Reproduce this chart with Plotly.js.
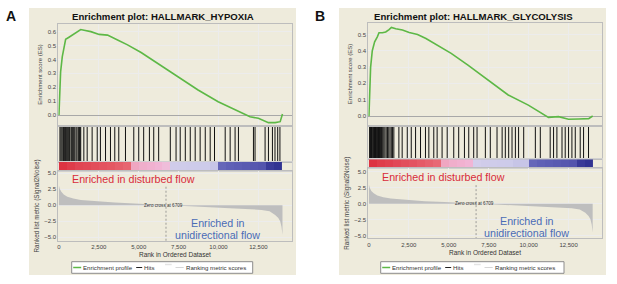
<!DOCTYPE html>
<html>
<head>
<meta charset="utf-8">
<script src="https://cdn.plot.ly/plotly-3.0.1.min.js"></script>
<style>
html,body{margin:0;padding:0;background:#fff;}
#chart{width:617px;height:284px;}
</style>
</head>
<body>
<div id="chart"></div>
<script>
// ---------- DATA ----------
const panelLabels = ["A", "B"];
const panelTitles = ["Enrichment plot: HALLMARK_HYPOXIA", "Enrichment plot: HALLMARK_GLYCOLYSIS"];
const rankTicks = [0, 2500, 5000, 7500, 10000, 12500];
const zeroCross = 6709;

// Running enrichment score, panel A (HYPOXIA)
const esRankA  = [0, 40, 105, 210, 315, 420, 630, 840, 1155, 1365, 1575, 2000, 2520, 3045, 3675, 4300, 5150, 6200, 7460, 8720, 9980, 11240, 11975, 12500, 13130, 13550, 13865, 14010];
const esScoreA = [0, 0.13, 0.31, 0.42, 0.49, 0.545, 0.56, 0.575, 0.595, 0.615, 0.61, 0.60, 0.58, 0.575, 0.54, 0.505, 0.45, 0.37, 0.275, 0.18, 0.095, 0.025, -0.012, -0.024, -0.055, -0.055, -0.048, 0.007];

// Running enrichment score, panel B (GLYCOLYSIS)
const esRankB  = [0, 40, 105, 210, 357, 525, 630, 840, 1050, 1260, 1407, 1680, 2100, 2520, 3045, 3570, 4300, 5150, 6200, 7460, 8720, 9980, 10820, 11240, 11870, 12500, 13130, 13760, 14010];
const esScoreB = [0, 0.16, 0.30, 0.40, 0.455, 0.485, 0.51, 0.51, 0.515, 0.53, 0.543, 0.535, 0.527, 0.512, 0.50, 0.475, 0.435, 0.384, 0.312, 0.22, 0.129, 0.067, 0.016, -0.008, -0.004, -0.02, -0.018, -0.016, 0.0];

// Gene-set hit positions (rank)
const hitsA = [63, 126, 189, 252, 294, 357, 420, 462, 525, 588, 651, 693, 777, 840, 903, 987, 1071, 1134, 1218, 1281, 1323, 1365,
  1560, 1770, 2080, 2400, 2600, 2920, 3230, 3500, 3750, 4170, 4690, 5000, 5310, 5670, 5940, 6250,
  6980, 7340, 7600, 7920, 8230, 8540, 8850, 9170, 9480, 9750, 10420, 10730, 11040, 11250,
  12190, 12290, 12920, 13130, 13380, 13540, 13710, 13850];
const hitsB = [40, 100, 160, 230, 290, 350, 410, 470, 540, 600, 660, 720, 790, 860, 930, 1000, 1080, 1160, 1240, 1320, 1400, 1480, 1560,
  1875, 2080, 2400, 2650, 2920, 3230, 3540, 3750, 4060, 4270, 4580, 4900, 5310, 5620, 5980, 6250, 6560, 6770,
  7290, 7600, 8020, 8340, 8540, 8750, 8960, 9170, 9370, 9690, 10420, 10730,
  11350, 11560, 11770, 12090, 12290, 12500, 12710, 12920, 13230, 13440, 13750];

// Ranked-list metric (Signal2Noise) profile
const metricRankA = [0, 50, 150, 300, 525, 900, 1365, 2000, 2520, 3500, 4730, 5800, 6709, 7800, 8930, 10000, 11030, 12000, 12700, 13200, 13550, 13750, 13865, 13950, 14010];
const metricValA  = [3.1, 2.6, 2.1, 1.7, 1.35, 1.05, 0.83, 0.68, 0.57, 0.42, 0.3, 0.15, 0, -0.15, -0.3, -0.4, -0.5, -0.6, -0.73, -0.95, -1.5, -2.0, -2.5, -3.4, -4.6];
const metricRankB = [0, 50, 150, 300, 525, 900, 1365, 2000, 2520, 3500, 4730, 5800, 6709, 7800, 8930, 10000, 11030, 12000, 12700, 13200, 13550, 13750, 13865, 13950, 14010];
const metricValB  = [3.0, 2.5, 2.0, 1.65, 1.3, 1.0, 0.8, 0.66, 0.55, 0.4, 0.28, 0.14, 0, -0.14, -0.28, -0.38, -0.48, -0.58, -0.7, -0.92, -1.4, -1.9, -2.4, -3.3, -4.5];

// Colour-bar bins (500 ranks each), signed intensity of the ranked metric
const binSize = 500;
const colorBinsA = [1.0, 0.95, 0.9, 0.88, 0.85, 0.82, 0.8, 0.76, 0.72, 0.36, 0.32, 0.3, 0.28, 0.22, -0.25, -0.26, -0.27, -0.28, -0.28, -0.3, -0.62, -0.64, -0.66, -0.68, -0.7, -0.72, -0.9, -0.95];
const colorBinsB = [1.0, 0.95, 0.92, 0.88, 0.85, 0.82, 0.78, 0.74, 0.7, 0.36, 0.32, 0.3, 0.28, -0.22, -0.25, -0.26, -0.27, -0.28, -0.3, -0.3, -0.62, -0.64, -0.66, -0.68, -0.7, -0.72, -0.9, -0.95];

const legendItems = ["Enrichment profile", "Hits", "Ranking metric scores"];

// ---------- STYLE / LAYOUT ----------
const W = 617, H = 284;
const green = "#5DB846";
const font = "Liberation Sans, Arial, sans-serif";
const colorscale = [[0, "#2A2C8C"], [0.18, "#5F60B6"], [0.36, "#CDCBEA"], [0.5, "#E8D8EE"], [0.64, "#F1B5D5"], [0.8, "#EB7A84"], [1, "#DD3342"]];

const panels = [
  {x0: 58.3, x1: 291.5, esTop: 24, esBot: 125, esRange: [-0.072, 0.655], esTicks: [0,0.1,0.2,0.3,0.4,0.5,0.6],
   hitTop: 127, hitBot: 162, cbBot: 171, mBot: 241, mRange: [-5.58, 5.36],
   es: [esRankA, esScoreA], hits: hitsA, metric: [metricRankA, metricValA], bins: colorBinsA,
   bg: [29, 296, 8, 275], legend: [71.7, 252.7, 261.7, 273.3]},
  {x0: 368.3, x1: 601.7, esTop: 23, esBot: 125, esRange: [-0.055, 0.57], esTicks: [0,0.1,0.2,0.3,0.4,0.5],
   hitTop: 126.7, hitBot: 159.3, cbBot: 168.3, mBot: 238.3, mRange: [-5.4, 5.53],
   es: [esRankB, esScoreB], hits: hitsB, metric: [metricRankB, metricValB], bins: colorBinsB,
   bg: [339, 606, 8, 275], legend: [380.7, 564, 261.7, 273.3]}
];

const px = v => v / W;
const py = v => 1 - v / H;
const xRange = [-40, 14575];

const traces = [];
const layout = {
  width: W, height: H,
  margin: {l: 0, r: 0, t: 0, b: 0},
  paper_bgcolor: "#ffffff", plot_bgcolor: "#ffffff",
  showlegend: false,
  font: {family: font, color: "#333"},
  shapes: [], annotations: []
};

panels.forEach((p, i) => {
  const k = i * 4;
  const ax = n => (k + n === 1 ? "" : String(k + n));
  const dom = [px(p.x0), px(p.x1)];
  const gridC = "#ECECEC", lineC = "#BDBDBD";
  const baseX = {domain: dom, range: xRange, showline: true, mirror: true, linecolor: lineC, linewidth: 1,
    showgrid: true, gridcolor: gridC, gridwidth: 1, zeroline: false, tickvals: rankTicks, showticklabels: false, ticks: ""};

  // ES subplot
  layout["xaxis" + ax(1)] = Object.assign({}, baseX, {anchor: "y" + ax(1)});
  layout["yaxis" + ax(1)] = {domain: [py(p.esBot), py(p.esTop)], range: p.esRange, anchor: "x" + ax(1),
    showline: true, mirror: true, linecolor: lineC, showgrid: true, gridcolor: gridC,
    zeroline: true, zerolinecolor: "#A8A8A8", zerolinewidth: 1,
    tickvals: p.esTicks, tickformat: ".1f", tickfont: {size: 6, color: "#444"}, ticks: "", ticklen: 0,
    title: {text: "Enrichment score (ES)", font: {size: 6, color: "#444"}, standoff: 4}};
  // Hits subplot
  layout["xaxis" + ax(2)] = Object.assign({}, baseX, {anchor: "y" + ax(2)});
  layout["yaxis" + ax(2)] = {domain: [py(p.hitBot), py(p.hitTop)], range: [0, 1], anchor: "x" + ax(2),
    showline: true, mirror: true, linecolor: lineC, showgrid: false, zeroline: false, showticklabels: false, ticks: ""};
  // Colour bar subplot
  layout["xaxis" + ax(3)] = Object.assign({}, baseX, {anchor: "y" + ax(3), showgrid: false, linecolor: "#D0D0D0"});
  layout["yaxis" + ax(3)] = {domain: [py(p.cbBot), py(p.hitBot)], range: [0, 1], anchor: "x" + ax(3),
    showline: true, mirror: true, linecolor: "#D0D0D0", showgrid: false, zeroline: false, showticklabels: false, ticks: ""};
  // Metric subplot
  layout["xaxis" + ax(4)] = Object.assign({}, baseX, {anchor: "y" + ax(4), showticklabels: true,
    tickformat: ",d", tickfont: {size: 6, color: "#444"},
    title: {text: "Rank in Ordered Dataset", font: {size: 6.5, color: "#333"}, standoff: 3}});
  layout["yaxis" + ax(4)] = {domain: [py(p.mBot), py(p.cbBot)], range: p.mRange, anchor: "x" + ax(4),
    showline: true, mirror: true, linecolor: lineC, showgrid: true, gridcolor: gridC,
    zeroline: false, tickvals: [-5, -2.5, 0, 2.5, 5], tickformat: ".1f", tickfont: {size: 6, color: "#444"}, ticks: "",
    title: {text: "Ranked list metric (Signal2Noise)", font: {size: 6.3, color: "#444"}, standoff: 4}};

  const xa = n => "x" + ax(n), ya = n => "y" + ax(n);

  // metric fill
  traces.push({type: "scatter", mode: "lines", x: p.metric[0], y: p.metric[1], xaxis: xa(4), yaxis: ya(4),
    fill: "tozeroy", fillcolor: "#BEBEBE", line: {width: 0, color: "#BEBEBE"}, hoverinfo: "skip"});
  // zero-cross dashed line
  traces.push({type: "scatter", mode: "lines", x: [zeroCross, zeroCross], y: [2.9, p.mRange[0]], xaxis: xa(4), yaxis: ya(4),
    line: {width: 0.8, color: "#888", dash: "2px,2px"}, hoverinfo: "skip"});
  // colour bar heatmap
  const edges = [];
  for (let b = 0; b <= p.bins.length; b++) edges.push(b * binSize);
  traces.push({type: "heatmap", x: edges, y: [0, 1], z: [p.bins], xaxis: xa(3), yaxis: ya(3),
    zmin: -1, zmax: 1, colorscale: colorscale, showscale: false, zsmooth: false, hoverinfo: "skip"});
  // hits
  const hx = [], hy = [];
  p.hits.forEach(h => { hx.push(h, h, null); hy.push(0, 1, null); });
  traces.push({type: "scatter", mode: "lines", x: hx, y: hy, xaxis: xa(2), yaxis: ya(2),
    line: {width: 1, color: "#111"}, hoverinfo: "skip", connectgaps: false});
  // ES curve
  traces.push({type: "scatter", mode: "lines", x: p.es[0], y: p.es[1], xaxis: xa(1), yaxis: ya(1),
    line: {width: 1.6, color: green}, hoverinfo: "skip"});

  // background panel
  layout.shapes.push({type: "rect", xref: "paper", yref: "paper", layer: "below",
    x0: px(p.bg[0]), x1: px(p.bg[1]), y0: py(p.bg[3]), y1: py(p.bg[2]), fillcolor: "#EEEBDC", line: {width: 0}});

  // titles
  layout.annotations.push({xref: "paper", yref: "paper", x: px((p.x0 + p.x1) / 2 - 12), y: py(16), text: "<b>" + panelTitles[i] + "</b>",
    showarrow: false, font: {size: 9.6, color: "#111", family: font}, xanchor: "center", yanchor: "middle"});
  layout.annotations.push({xref: "paper", yref: "paper", x: px(i === 0 ? 11 : 320), y: py(16), text: "<b>" + panelLabels[i] + "</b>",
    showarrow: false, font: {size: 14, color: "#111", family: font}, xanchor: "center", yanchor: "middle"});
  // region labels
  layout.annotations.push({xref: xa(4), yref: ya(4), x: i === 0 ? 4700 : 4640, y: i === 0 ? 4.06 : 4.12,
    text: "Enriched in disturbed flow", showarrow: false, font: {size: 10.7, color: "#D92B3A", family: font}});
  layout.annotations.push({xref: xa(4), yref: ya(4), x: i === 0 ? 9944 : 9875, y: i === 0 ? -2.72 : -2.66,
    text: "Enriched in", showarrow: false, font: {size: 10.7, color: "#4A6CB6", family: font}});
  layout.annotations.push({xref: xa(4), yref: ya(4), x: i === 0 ? 9944 : 9875, y: i === 0 ? -4.64 : -4.63,
    text: "unidirectional flow", showarrow: false, font: {size: 10.7, color: "#4A6CB6", family: font}});
  layout.annotations.push({xref: xa(4), yref: ya(4), x: i === 0 ? 6575 : 6608, y: 0,
    text: "Zero cross at " + zeroCross, showarrow: false, font: {size: 4.6, color: "#333", family: font}});

  // legend (box + swatches + labels)
  const L = p.legend, off = L[0];
  const cy = (L[2] + L[3]) / 2;
  layout.shapes.push({type: "rect", xref: "paper", yref: "paper", x0: px(L[0]), x1: px(L[1]), y0: py(L[3]), y1: py(L[2]),
    fillcolor: "#ffffff", line: {color: "#8C8C8C", width: 1}});
  const sw = [[1.5, 9.5, green, 1.5], [64.5, 70.5, "#222", 1], [103.8, 112, "#D6D6D6", 1]];
  sw.forEach(s => layout.shapes.push({type: "line", xref: "paper", yref: "paper", x0: px(off + s[0]), x1: px(off + s[1]),
    y0: py(cy), y1: py(cy), line: {color: s[2], width: s[3]}}));
  layout.shapes.push({type: "line", xref: "paper", yref: "paper", x0: px(off + 93.3), x1: px(off + 100),
    y0: py(cy - 3), y1: py(cy - 3), line: {color: "#E4E4E4", width: 1.5}});
  const lx = [10.5, 71.3, 113];
  legendItems.forEach((t, j) => layout.annotations.push({xref: "paper", yref: "paper", x: px(off + lx[j]), y: py(cy),
    text: t, showarrow: false, xanchor: "left", yanchor: "middle", xshift: -1, font: {size: 6.1, color: "#333", family: font}}));
});

Plotly.newPlot("chart", traces, layout, {staticPlot: true, displayModeBar: false});
</script>
</body>
</html>
